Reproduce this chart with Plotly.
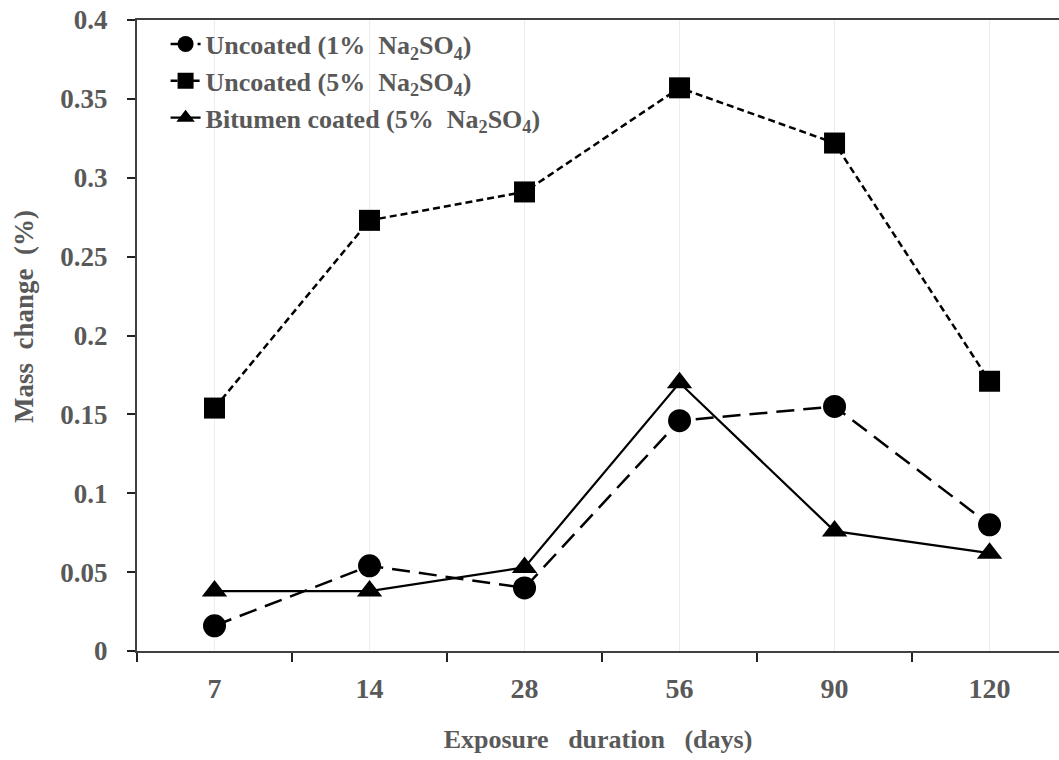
import plotly.graph_objects as go

categories = ["7", "14", "28", "56", "90", "120"]
uncoated_1 = [0.016, 0.054, 0.040, 0.146, 0.155, 0.080]
uncoated_5 = [0.154, 0.273, 0.291, 0.357, 0.322, 0.171]
bitumen_5 = [0.038, 0.038, 0.053, 0.170, 0.076, 0.062]
series_names = [
    "Uncoated (1%  Na<sub>2</sub>SO<sub>4</sub>)",
    "Uncoated (5%  Na<sub>2</sub>SO<sub>4</sub>)",
    "Bitumen coated (5%  Na<sub>2</sub>SO<sub>4</sub>)",
]
y_ticks = [0, 0.05, 0.1, 0.15, 0.2, 0.25, 0.3, 0.35, 0.4]
y_ticktext = ["0", "0.05", "0.1", "0.15", "0.2", "0.25", "0.3", "0.35", "0.4"]

xpos = list(range(len(categories)))
FONT = "Liberation Serif"
GRAY = "#595959"

fig = go.Figure()
fig.add_trace(go.Scatter(
    x=xpos, y=uncoated_1, name=series_names[0], mode="lines+markers",
    line=dict(color="black", width=2.5, dash="18px,9px"),
    marker=dict(symbol="circle", size=23, color="black"),
))
fig.add_trace(go.Scatter(
    x=xpos, y=uncoated_5, name=series_names[1], mode="lines+markers",
    line=dict(color="black", width=2.5, dash="7px,4px"),
    marker=dict(symbol="square", size=21, color="black"),
))
fig.add_trace(go.Scatter(
    x=xpos, y=bitumen_5, name=series_names[2], mode="lines+markers",
    line=dict(color="black", width=2.2),
    marker=dict(symbol="triangle-up", size=22, color="black"),
))

fig.update_layout(
    width=1059, height=760,
    margin=dict(l=137, r=0, t=20, b=109),
    plot_bgcolor="white", paper_bgcolor="white",
    font=dict(family=FONT, size=26, color=GRAY, weight="bold"),
    showlegend=True,
    legend=dict(x=0.031, y=0.999, xanchor="left", yanchor="top",
                bgcolor="rgba(255,255,255,0)",
                font=dict(family=FONT, size=26, color=GRAY, weight="bold"),
                tracegroupgap=0),
    annotations=[dict(
        text="Mass  change  (%)", textangle=-90, showarrow=False,
        xref="paper", yref="paper", x=-0.1226, y=0.531,
        xanchor="center", yanchor="middle",
        font=dict(family=FONT, size=27, color=GRAY, weight="bold"),
    )],
)
fig.update_xaxes(
    range=[-0.5, 5.448],
    tickmode="array", tickvals=xpos, ticktext=categories,
    ticks="", showgrid=True, gridcolor="#ededed", gridwidth=1,
    showline=True, linecolor="#404040", linewidth=2, mirror=True,
    zeroline=False, automargin=False,
    minor=dict(tickmode="array", tickvals=[i - 0.5 for i in range(len(categories) + 1)],
               ticks="outside", ticklen=9, tickcolor="#222222", tickwidth=1.5,
               showgrid=False),
    ticklabelstandoff=11, ticklabeloverflow="allow",
    tickfont=dict(family=FONT, size=28, color=GRAY, weight="bold"),
    title=dict(text="Exposure   duration   (days)", standoff=27,
               font=dict(family=FONT, size=26, color=GRAY, weight="bold")),
)
fig.update_yaxes(
    range=[0, 0.4],
    tickmode="array", tickvals=y_ticks, ticktext=y_ticktext,
    ticks="outside", ticklen=8, tickcolor="#222222", tickwidth=1.5,
    showgrid=False, zeroline=False, automargin=False,
    showline=True, linecolor="#404040", linewidth=2,
    ticklabelstandoff=14, ticklabeloverflow="allow",
    tickfont=dict(family=FONT, size=27, color=GRAY, weight="bold"),
)

fig.write_html(
    "out.html",
    config={"displayModeBar": False},
    post_script="document.body.style.margin='0';document.body.style.overflow='hidden';",
)
